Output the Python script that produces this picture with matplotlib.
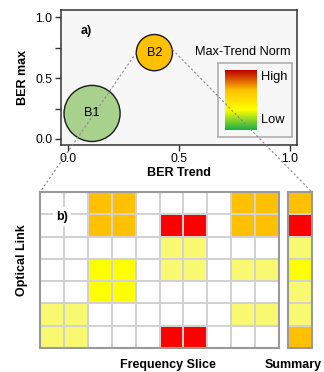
import numpy as np
import matplotlib
matplotlib.use("Agg")
import matplotlib.pyplot as plt
from matplotlib.colors import ListedColormap, LinearSegmentedColormap
from matplotlib.lines import Line2D

plt.rcParams['font.family'] = ['Liberation Sans', 'DejaVu Sans']

# panel a) data
bubble_names = ['B1', 'B2']
ber_trend = [0.11, 0.39]
ber_max = [0.21, 0.71]
bubble_sizes = [1630, 680]
bubble_colors = ['#a9d18e', '#ffc000']

# panel b) data: 0 none, 1 low, 2 mid-low, 3 mid-high, 4 high
levels = [
    [0, 0, 3, 3, 0, 0, 0, 0, 3, 3],
    [0, 0, 3, 3, 0, 4, 4, 0, 3, 3],
    [0, 0, 0, 0, 0, 1, 1, 0, 0, 0],
    [0, 0, 2, 2, 0, 1, 1, 0, 1, 1],
    [0, 0, 2, 2, 0, 0, 0, 0, 0, 0],
    [1, 1, 0, 0, 0, 0, 0, 0, 1, 1],
    [1, 1, 0, 0, 0, 4, 4, 0, 0, 0],
]
summary = [3, 4, 1, 2, 1, 1, 3]
level_colors = ['#ffffff', '#f9f871', '#ffff00', '#ffc000', '#ff0000']

fig = plt.figure(figsize=(3.24, 3.72), dpi=100)

# ---- a) bubble plot
ax = fig.add_axes([0.188, 0.610, 0.728, 0.363])
ax.set_facecolor('#f7f7f7')
ax.scatter(ber_trend, ber_max, s=bubble_sizes, c=bubble_colors,
           edgecolors='#1a1a1a', linewidths=1.0, zorder=3)
for n, x, y in zip(bubble_names, ber_trend, ber_max):
    ax.text(x, y, n, ha='center', va='center', fontsize=9.2, zorder=4)
ax.set_xlim(-0.03, 1.03)
ax.set_ylim(-0.05, 1.06)
ax.set_xticks([0.0, 0.5, 1.0])
ax.set_yticks([0.0, 0.25, 0.5, 0.75, 1.0])
ax.set_yticklabels(['0.0', '', '0.5', '', '1.0'])
ax.tick_params(labelsize=8.8, length=4, width=1, color='#333333', pad=2)
for sp in ax.spines.values():
    sp.set_color('#333333')
    sp.set_linewidth(1.1)
ax.set_xlabel('BER Trend', fontsize=9, fontweight='bold', labelpad=1)
ax.set_ylabel('BER max', fontsize=9, fontweight='bold', labelpad=5)
ax.text(0.06, 0.89, 'a)', fontsize=9, fontweight='bold', ha='left', va='center')
ax.text(0.975, 0.69, 'Max-Trend Norm', transform=ax.transAxes, fontsize=9.2,
        ha='right', va='center')

# colour legend box
lax = ax.inset_axes([0.665, 0.059, 0.314, 0.548])
lax.set_facecolor('#f7f7f7')
lax.set_xticks([])
lax.set_yticks([])
for sp in lax.spines.values():
    sp.set_color('#b4b4b4')
    sp.set_linewidth(1.3)
lax.set_xlim(0, 1)
lax.set_ylim(0, 1)
norm_cmap = LinearSegmentedColormap.from_list(
    'mtn', ['#1aaf4b', '#ffff00', '#ffc000', '#c00000'])
grad = np.linspace(0, 1, 100).reshape(-1, 1)
lax.imshow(grad, cmap=norm_cmap, origin='lower', aspect='auto',
           extent=[0.095, 0.515, 0.095, 0.905])
lax.text(0.58, 0.81, 'High', fontsize=9.3, ha='left', va='center')
lax.text(0.58, 0.23, 'Low', fontsize=9.3, ha='left', va='center')

# ---- b) heatmap
cmap = ListedColormap(level_colors)
hax = fig.add_axes([0.1235, 0.0645, 0.738, 0.419])
hax.pcolormesh(np.array(levels), cmap=cmap, vmin=-0.5, vmax=4.5,
               edgecolors='#d2d2d2', linewidth=1.1)
hax.set_xlim(0, len(levels[0]))
hax.set_ylim(len(levels), 0)
hax.set_xticks([])
hax.set_yticks([])
for sp in hax.spines.values():
    sp.set_color('#999999')
    sp.set_linewidth(1.5)
hax.text(0.92, 1.1, 'b)', fontsize=9, fontweight='bold', ha='center', va='center',
         bbox=dict(facecolor='white', edgecolor='none', pad=2.5))

sax = fig.add_axes([0.889, 0.0645, 0.074, 0.419])
sax.pcolormesh(np.array(summary).reshape(-1, 1), cmap=cmap, vmin=-0.5, vmax=4.5,
               edgecolors='#d2d2d2', linewidth=1.1)
sax.set_xlim(0, 1)
sax.set_ylim(len(summary), 0)
sax.set_xticks([])
sax.set_yticks([])
for sp in sax.spines.values():
    sp.set_color('#999999')
    sp.set_linewidth(1.5)

fig.text(0.068, 0.302, 'Optical Link', rotation=90, fontsize=9, fontweight='bold',
         ha='center', va='center')
fig.text(0.518, 0.019, 'Frequency Slice', fontsize=9, fontweight='bold',
         ha='center', va='center')
fig.text(0.905, 0.019, 'Summary', fontsize=9, fontweight='bold',
         ha='center', va='center')

# ---- zoom lines from B2 to panel b)
cx, cy = ax.transData.transform((ber_trend[1], ber_max[1]))
r = np.sqrt(bubble_sizes[1]) / 2 * fig.dpi / 72
to_fig = fig.transFigure.inverted()
p_left = to_fig.transform((cx - r, cy))
p_right = to_fig.transform((cx + r, cy + 3))
q_left = to_fig.transform(hax.transAxes.transform((0, 1)))
q_right = to_fig.transform(sax.transAxes.transform((1, 1)))
for p, q in [(p_left, q_left), (p_right, q_right)]:
    fig.add_artist(Line2D([p[0], q[0]], [p[1], q[1]], transform=fig.transFigure,
                          color='#888888', linewidth=0.8, linestyle=(0, (2, 2)),
                          zorder=5))

fig.savefig('out.png', dpi=100)
